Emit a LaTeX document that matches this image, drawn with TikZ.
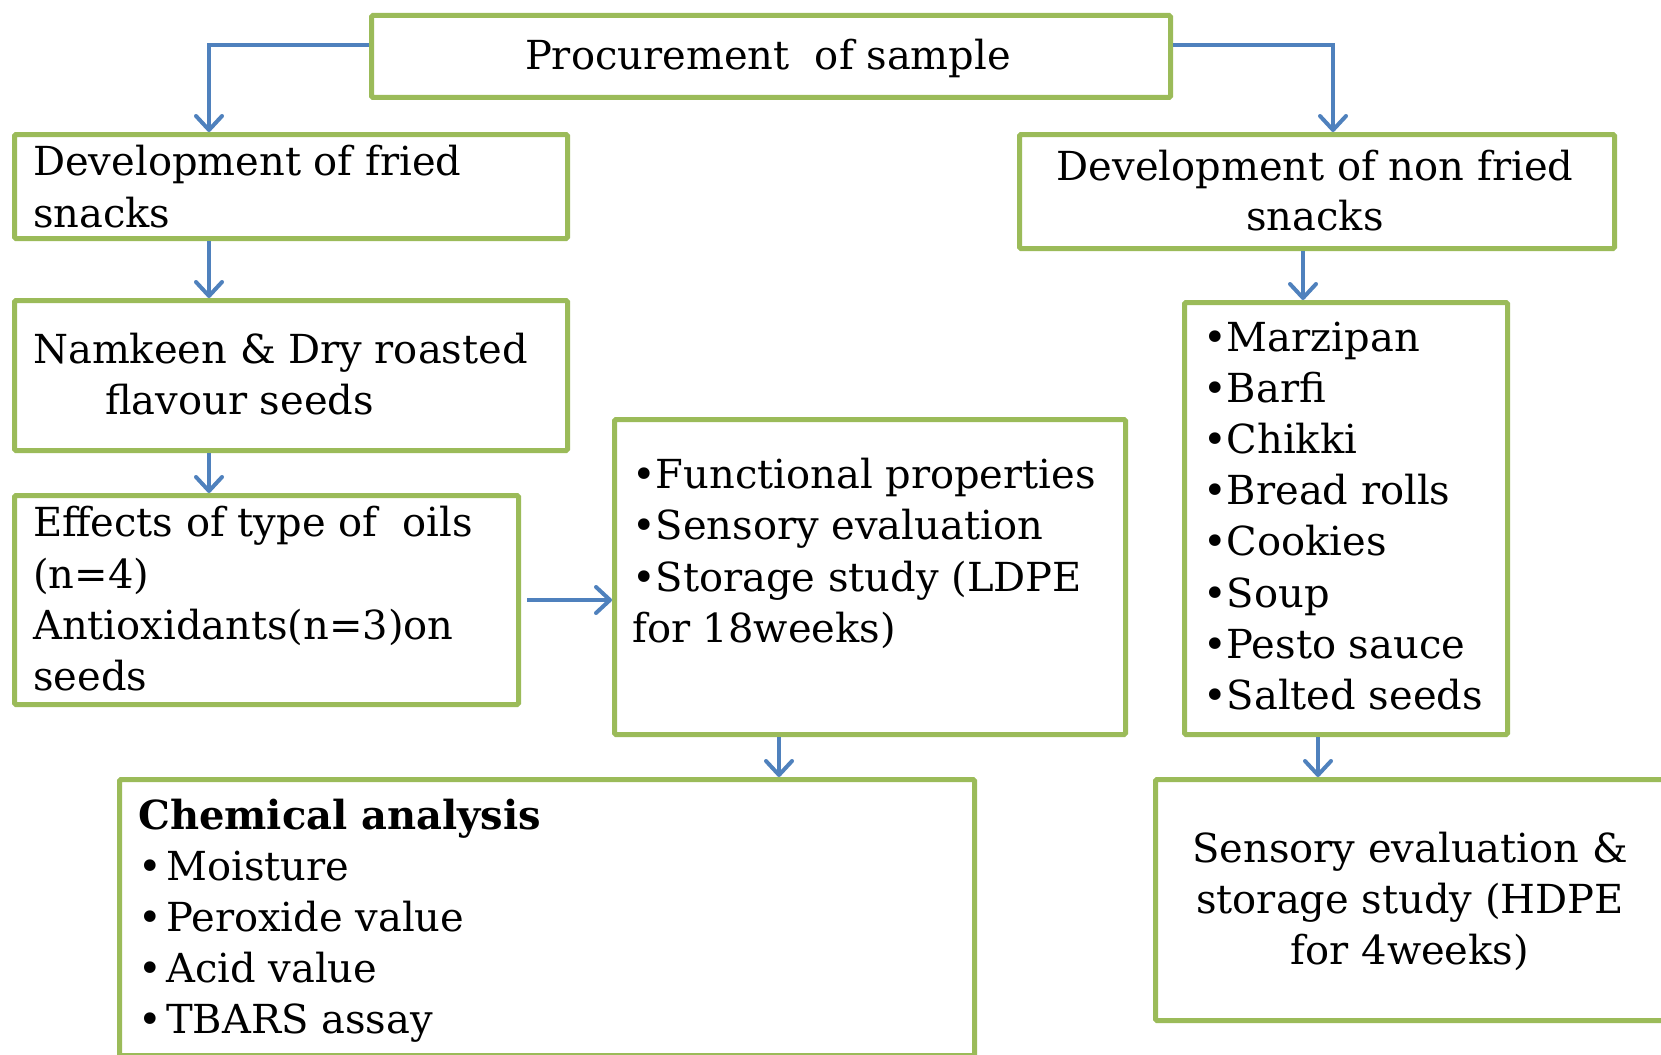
\documentclass[tikz,border=0pt]{standalone}
\usepackage{fontspec}
\setmainfont{DejaVu Serif}
\usetikzlibrary{arrows.meta}
\definecolor{bgreen}{RGB}{155,187,89}
\definecolor{ablue}{RGB}{79,129,189}
\begin{document}
\begin{tikzpicture}[x=1pt,y=-1pt,
  box/.style={draw=bgreen, line width=5pt, rounded corners=1.5pt, inner sep=0pt, anchor=north west},
  txt/.style={anchor=base west, inner sep=0pt, font=\fontsize{40}{48}\selectfont},
  ctxt/.style={anchor=base, inner sep=0pt, font=\fontsize{40}{48}\selectfont},
  arr/.style={draw=ablue, line width=4pt, -{Straight Barb[length=14pt,width=26pt,line cap=round,line join=round]}}]
\useasboundingbox (0,0) rectangle (1661,1054);
% boxes
\node[box, minimum width=799pt, minimum height=82pt] (proc) at (369,13) {};
\node[box, minimum width=553pt, minimum height=104pt] (fried) at (12,132) {};
\node[box, minimum width=595pt, minimum height=114pt] (nonfried) at (1017,132) {};
\node[box, minimum width=553pt, minimum height=150pt] (namkeen) at (12,298) {};
\node[box, minimum width=504pt, minimum height=209pt] (effects) at (12,493) {};
\node[box, minimum width=511pt, minimum height=315pt] (func) at (612,417) {};
\node[box, minimum width=323pt, minimum height=432pt] (list) at (1182,300) {};
\node[box, minimum width=855pt, minimum height=276pt] (chem) at (117,777) {};
\node[box, minimum width=530pt, minimum height=241pt] (sens) at (1153,777) {};
% texts
\node[ctxt] (t-proc) at (768,70) {Procurement\ \ of sample};
\node[txt] (t-fr1) at (33,175) {Development of fried};
\node[txt] (t-fr2) at (33,227) {snacks};
\node[ctxt] (t-nf1) at (1315,180) {Development of non fried};
\node[ctxt] (t-nf2) at (1315,230) {snacks};
\node[txt] (t-nk1) at (33,363) {Namkeen \& Dry roasted};
\node[txt] (t-nk2) at (105,414) {flavour seeds};
\node[txt] (t-ef1) at (33,536) {Effects of type of\ \ oils};
\node[txt] (t-ef2) at (33,588) {(n=4)};
\node[txt] (t-ef3) at (33,639) {Antioxidants(n=3)on};
\node[txt] (t-ef4) at (33,690) {seeds};
\node[txt] (t-fn1) at (632,488) {•Functional properties};
\node[txt] (t-fn2) at (632,539) {•Sensory evaluation};
\node[txt] (t-fn3) at (632,591) {•Storage study (LDPE};
\node[txt] (t-fn4) at (632,642) {for 18weeks)};
\node[txt] (t-ls1) at (1203,351) {•Marzipan};
\node[txt] (t-ls2) at (1203,402) {•Barfi};
\node[txt] (t-ls3) at (1203,453) {•Chikki};
\node[txt] (t-ls4) at (1203,504) {•Bread rolls};
\node[txt] (t-ls5) at (1203,555) {•Cookies};
\node[txt] (t-ls6) at (1203,607) {•Soup};
\node[txt] (t-ls7) at (1203,658) {•Pesto sauce};
\node[txt] (t-ls8) at (1203,709) {•Salted seeds};
\node[txt, font=\fontsize{40}{48}\selectfont\bfseries] (t-ch0) at (138,829) {Chemical analysis};
\node[txt] (t-ch1) at (138,880) {\makebox[28pt][l]{•}Moisture};
\node[txt] (t-ch2) at (138,931) {\makebox[28pt][l]{•}Peroxide value};
\node[txt] (t-ch3) at (138,982) {\makebox[28pt][l]{•}Acid value};
\node[txt] (t-ch4) at (138,1033) {\makebox[28pt][l]{•}TBARS assay};
\node[ctxt] (t-se1) at (1410,862) {Sensory evaluation \&};
\node[ctxt] (t-se2) at (1410,913) {storage study (HDPE};
\node[ctxt] (t-se3) at (1410,964) {for 4weeks)};
% arrows
\coordinate (chemin) at ([xshift=662pt]chem.north west);
\draw[arr] ([yshift=11pt]proc.west) -| ([xshift=197pt]fried.north west);
\draw[arr] ([yshift=11pt]proc.east) -| ([xshift=316pt]nonfried.north west);
\draw[arr] ([xshift=197pt]fried.south west) -- ([xshift=197pt]namkeen.north west);
\draw[arr] ([xshift=197pt]namkeen.south west) -- ([xshift=197pt]effects.north west);
\draw[arr] ([xshift=6pt]effects.east) -- (effects.east -| func.west);
\draw[arr] (func.south -| chemin) -- (chemin);
\draw[arr] ([xshift=286pt]nonfried.south west) -- ([xshift=121pt]list.north west);
\draw[arr] ([xshift=136pt]list.south west) -- ([xshift=165pt]sens.north west);
\end{tikzpicture}
\end{document}
